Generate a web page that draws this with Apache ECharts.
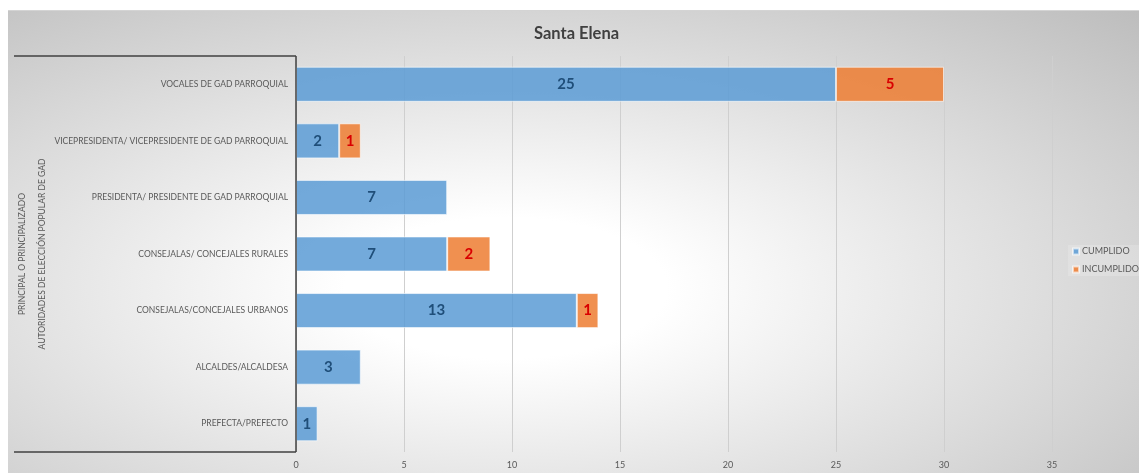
<!DOCTYPE html>
<html>
<head>
<meta charset="utf-8">
<script src="https://cdn.jsdelivr.net/npm/echarts@6/dist/echarts.min.js"></script>
<style>
html,body{margin:0;padding:0;background:#fff;}
#bg{position:absolute;left:8px;top:10px;width:1131px;height:463px;border-top:1px solid #d4d4d4;box-sizing:border-box;
background:radial-gradient(ellipse farthest-corner at 44% 60%, #ffffff 0%, #ffffff 18%, #bdbdbd 100%);}
#chart{position:absolute;left:0;top:0;width:1139px;height:473px;}
</style>
</head>
<body>
<div id="bg"></div>
<div id="chart"></div>
<script>
const categories = [
  'VOCALES DE GAD PARROQUIAL',
  'VICEPRESIDENTA/ VICEPRESIDENTE DE GAD PARROQUIAL',
  'PRESIDENTA/ PRESIDENTE DE GAD PARROQUIAL',
  'CONSEJALAS/ CONCEJALES RURALES',
  'CONSEJALAS/CONCEJALES URBANOS',
  'ALCALDES/ALCALDESA',
  'PREFECTA/PREFECTO'
];
const cumplido = [25, 2, 7, 7, 13, 3, 1];
const incumplido = [5, 1, null, 2, 1, null, null];
const seriesNames = ['CUMPLIDO', 'INCUMPLIDO'];
const groupLabels = ['PRINCIPAL O PRINCIPALIZADO', 'AUTORIDADES DE ELECCIÓN POPULAR DE GAD'];
const chartTitle = 'Santa Elena';

const font = 'Lato, "Open Sans", sans-serif';
const chart = echarts.init(document.getElementById('chart'), null, {renderer: 'canvas'});
const gridTop = 56, gridBottom = 21, gridLeft = 296;
const plotMid = (gridTop + (473 - gridBottom)) / 2;

chart.setOption({
  backgroundColor: 'transparent',
  animation: false,
  title: {
    text: chartTitle, left: 529, top: 20,
    textStyle: {fontFamily: font, fontSize: 16.5, fontWeight: 'bold', color: '#404040'}
  },
  legend: {
    orient: 'vertical', left: 1068, top: 245,
    itemWidth: 6, itemHeight: 6, itemGap: 9, icon: 'rect',
    padding: [2, 4, 2, 4],
    backgroundColor: 'rgba(255,255,255,0.18)',
    textStyle: {fontFamily: font, fontSize: 9, color: '#595959', padding: [0, 0, 0, -2]},
    data: seriesNames
  },
  grid: {left: gridLeft, right: 87, top: gridTop, bottom: gridBottom, containLabel: false},
  xAxis: {
    type: 'value', min: 0, max: 35, interval: 5,
    axisLine: {show: false}, axisTick: {show: false},
    splitLine: {lineStyle: {color: '#cfcfcf', width: 1}},
    axisLabel: {fontFamily: font, fontSize: 9, color: '#595959', margin: 9}
  },
  yAxis: {
    type: 'category', inverse: true, data: categories,
    axisLine: {show: false}, axisTick: {show: false},
    axisLabel: {fontFamily: font, fontSize: 8.5, color: '#595959', margin: 8}
  },
  series: [
    {
      name: seriesNames[0], type: 'bar', stack: 'a', data: cumplido, barCategoryGap: '38%',
      itemStyle: {color: 'rgba(91,155,213,0.85)', borderColor: 'rgba(255,255,255,0.6)', borderWidth: 1},
      label: {show: true, position: 'inside', fontFamily: font, fontSize: 15, fontWeight: 'bold', color: '#1F4E79'}
    },
    {
      name: seriesNames[1], type: 'bar', stack: 'a', data: incumplido,
      itemStyle: {color: 'rgba(237,125,49,0.85)', borderColor: 'rgba(255,255,255,0.6)', borderWidth: 1},
      label: {show: true, position: 'inside', fontFamily: font, fontSize: 15, fontWeight: 'bold', color: '#D90000'}
    }
  ],
  graphic: [
    {type: 'line', shape: {x1: 14, y1: gridTop, x2: gridLeft, y2: gridTop}, style: {stroke: '#404040', lineWidth: 1.5}, z: 100},
    {type: 'line', shape: {x1: 14, y1: 473 - gridBottom, x2: gridLeft, y2: 473 - gridBottom}, style: {stroke: '#404040', lineWidth: 1.5}, z: 100},
    {type: 'line', shape: {x1: gridLeft, y1: gridTop, x2: gridLeft, y2: 473 - gridBottom}, style: {stroke: '#404040', lineWidth: 1.5}, z: 100},
    {type: 'text', x: 22, y: plotMid, rotation: Math.PI / 2,
     style: {text: groupLabels[0], fontFamily: font, fontSize: 8.5, fill: '#595959', align: 'center', verticalAlign: 'middle'}},
    {type: 'text', x: 42, y: plotMid, rotation: Math.PI / 2,
     style: {text: groupLabels[1], fontFamily: font, fontSize: 8.5, fill: '#595959', align: 'center', verticalAlign: 'middle'}}
  ]
});
</script>
</body>
</html>
